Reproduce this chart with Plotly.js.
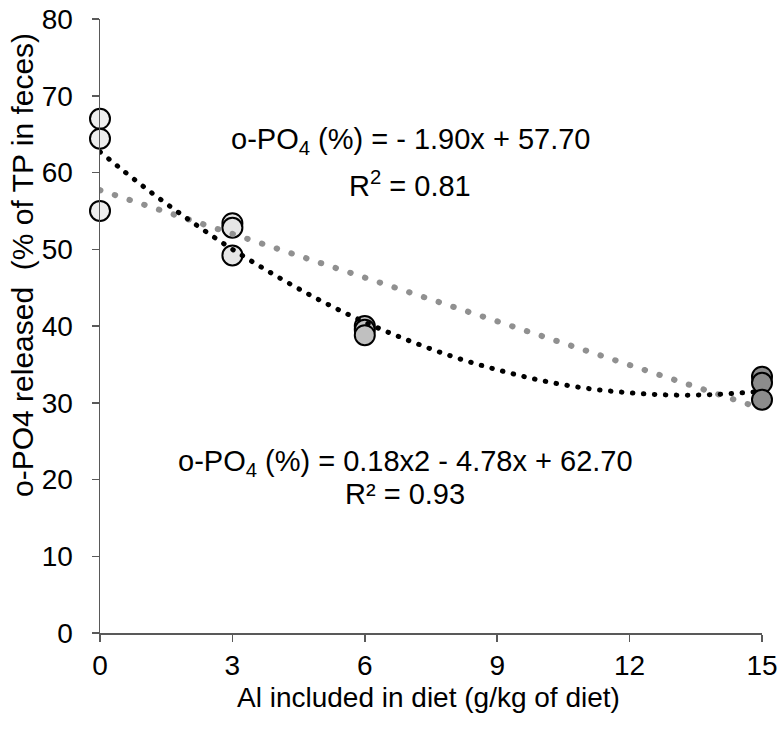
<!DOCTYPE html>
<html>
<head>
<meta charset="utf-8">
<script src="https://cdn.plot.ly/plotly-3.0.1.min.js"></script>
<style>html,body{margin:0;padding:0;background:#fff;}#chart{width:782px;height:730px;}</style>
</head>
<body>
<div id="chart"></div>
<script>
const xObs = [0, 0, 0, 3, 3, 3, 6, 6, 6, 15, 15, 15];
const yObs = [67.0, 64.4, 55.0, 53.4, 52.8, 49.2, 40.0, 39.5, 38.8, 33.4, 32.6, 30.4];
const markerFill = ['#eeeeee', '#eeeeee', '#eeeeee', '#e6e6e6', '#e6e6e6', '#e6e6e6',
                    '#c0c0c0', '#c0c0c0', '#c0c0c0', '#8c8c8c', '#8c8c8c', '#8c8c8c'];

// Trend lines, values
const xTrend = [0, 1, 2, 3, 4, 5, 6, 7, 8, 9, 10, 11, 12, 13, 14, 15];
const yQuad  = [62.7, 58.1, 53.9, 50.0, 46.5, 43.3, 40.5, 38.1, 36.0, 34.3, 32.9, 31.9, 31.3, 31.0, 31.1, 31.5];
const xLin   = [0, 14.8];
const yLin   = [57.7, 29.6];

const xTicks = [0, 3, 6, 9, 12, 15];
const yTicks = [0, 10, 20, 30, 40, 50, 60, 70, 80];

const xTitle = 'Al included in diet (g/kg of diet)';
const yTitle = 'o-PO4 released\u00a0 (% of TP in feces)';

const font = 'Liberation Sans, Arial, sans-serif';

const traces = [
  {
    x: xObs, y: yObs, type: 'scatter', mode: 'markers', cliponaxis: false,
    marker: {size: 20, color: markerFill, line: {color: '#000000', width: 2}},
    hoverinfo: 'skip'
  },
  {
    x: xLin, y: yLin, type: 'scatter', mode: 'lines', cliponaxis: false,
    line: {color: '#909090', width: 6, dash: '0.5px,15px'},
    hoverinfo: 'skip'
  },
  {
    x: xTrend, y: yQuad, type: 'scatter', mode: 'lines', cliponaxis: false,
    line: {color: '#000000', width: 5, dash: '0.5px,10.5px', shape: 'spline'},
    hoverinfo: 'skip'
  }
];

const W = 662, H = 614, L = 100, T = 19;
const px = v => (v - L) / W;
const py = v => (T + H - v) / H;

const layout = {
  width: 782, height: 730,
  margin: {l: 100, r: 20, t: 19, b: 97},
  paper_bgcolor: '#ffffff', plot_bgcolor: '#ffffff',
  showlegend: false,
  font: {family: font, color: '#000000', size: 28},
  xaxis: {
    range: [0, 15], tickvals: xTicks, ticktext: xTicks.map(String),
    showgrid: false, zeroline: false, showline: true, linecolor: '#595959', linewidth: 1.5,
    ticks: 'outside', ticklen: 7, tickcolor: '#595959', tickwidth: 1.5,
    tickfont: {family: font, size: 28, color: '#000000'}
  },
  yaxis: {
    range: [0, 80], tickvals: yTicks, ticktext: yTicks.map(String),
    showgrid: false, zeroline: false, showline: true, linecolor: '#595959', linewidth: 1.5,
    ticks: 'outside', ticklen: 7, tickcolor: '#595959', tickwidth: 1.5,
    ticklabelstandoff: 13,
    tickfont: {family: font, size: 28, color: '#000000'}
  },
  annotations: [
    {xref: 'paper', yref: 'paper', x: px(428), y: py(697), xanchor: 'center', yanchor: 'middle',
     showarrow: false, text: xTitle, font: {family: font, size: 28, color: '#000000'}},
    {xref: 'paper', yref: 'paper', x: px(22), y: py(265), xanchor: 'center', yanchor: 'middle', textangle: -90,
     showarrow: false, text: yTitle, font: {family: font, size: 30, color: '#000000'}},
    {xref: 'paper', yref: 'paper', x: px(410), y: py(141), xanchor: 'center', yanchor: 'middle',
     showarrow: false, text: 'o-PO<sub>4</sub> (%) = - 1.90x + 57.70', font: {family: font, size: 29, color: '#000000'}},
    {xref: 'paper', yref: 'paper', x: px(410), y: py(184), xanchor: 'center', yanchor: 'middle',
     showarrow: false, text: 'R<sup>2</sup> = 0.81', font: {family: font, size: 29, color: '#000000'}},
    {xref: 'paper', yref: 'paper', x: px(405), y: py(463), xanchor: 'center', yanchor: 'middle',
     showarrow: false, text: 'o-PO<sub>4</sub> (%) = 0.18x2 - 4.78x + 62.70', font: {family: font, size: 29, color: '#000000'}},
    {xref: 'paper', yref: 'paper', x: px(405), y: py(494), xanchor: 'center', yanchor: 'middle',
     showarrow: false, text: 'R\u00b2 = 0.93', font: {family: font, size: 29, color: '#000000'}}
  ]
};

function roundCaps() {
  document.querySelectorAll('#chart .scatterlayer .trace .js-line').forEach(p => {
    p.style.strokeLinecap = 'round';
  });
}

Plotly.newPlot('chart', traces, layout, {staticPlot: true, displayModeBar: false}).then(gd => {
  roundCaps();
  gd.on('plotly_afterplot', roundCaps);
});
</script>
</body>
</html>
